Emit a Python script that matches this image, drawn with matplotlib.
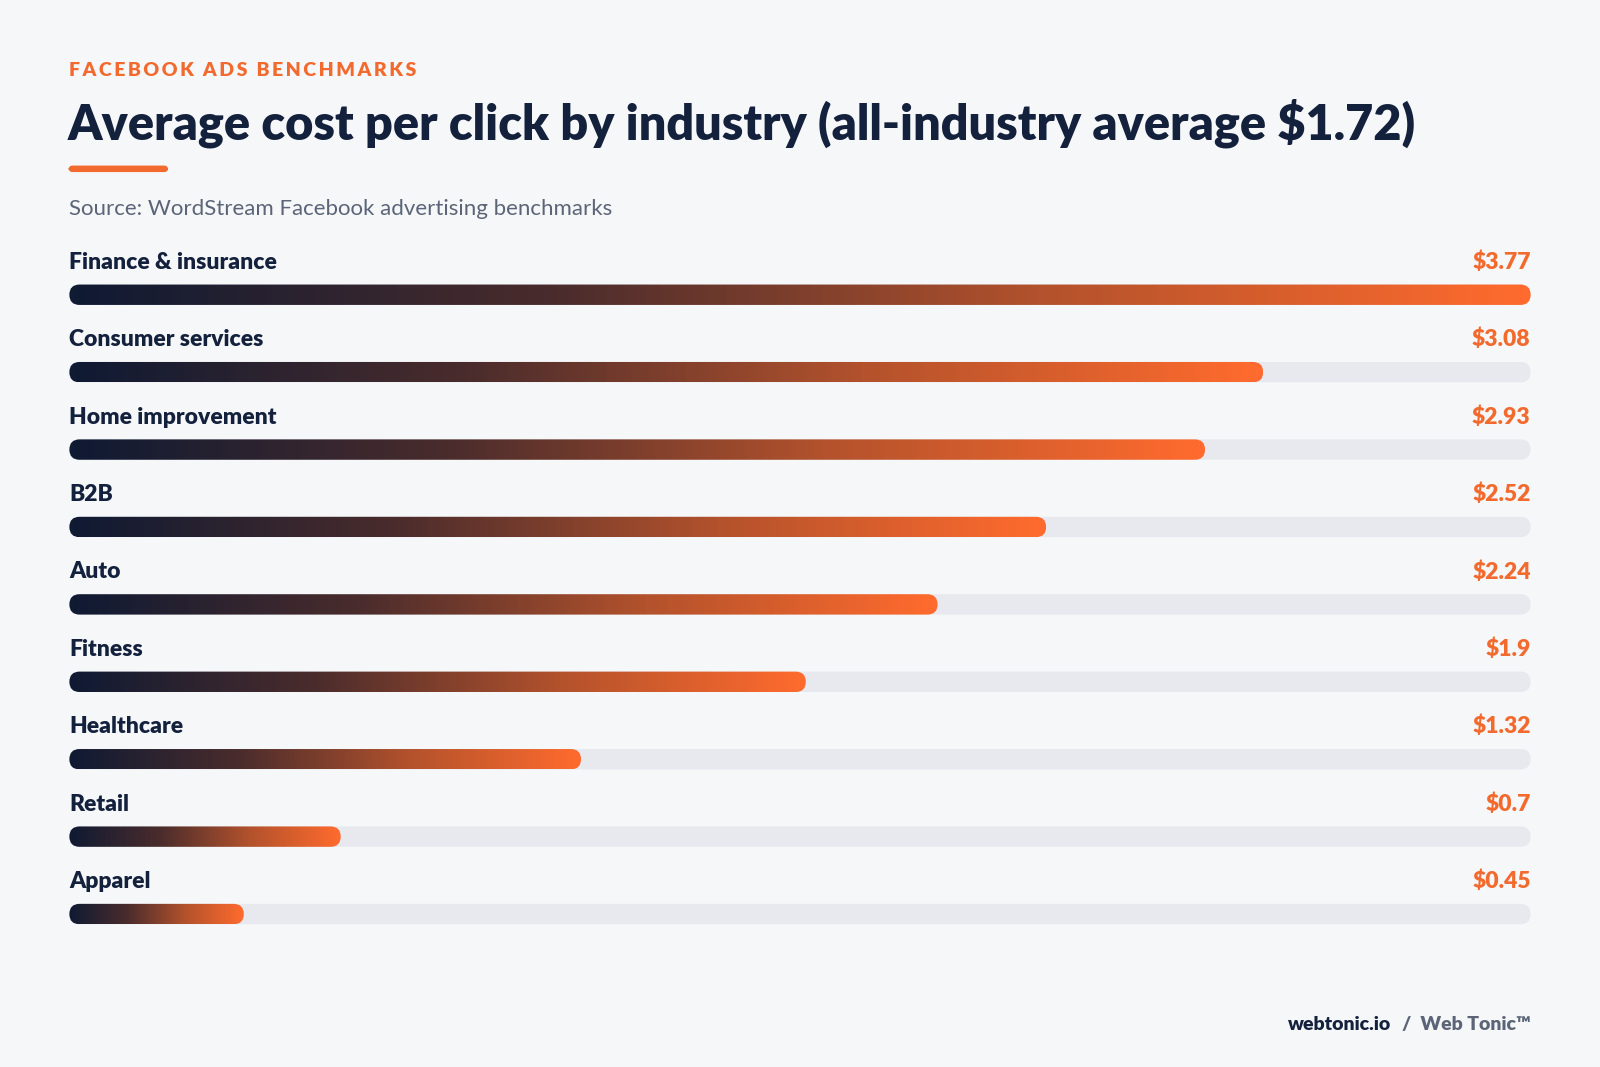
import numpy as np
import matplotlib
matplotlib.use("Agg")
import matplotlib.pyplot as plt
from matplotlib.patches import FancyBboxPatch
from matplotlib.colors import LinearSegmentedColormap

categories = ["Finance & insurance", "Consumer services", "Home improvement", "B2B",
              "Auto", "Fitness", "Healthcare", "Retail", "Apparel"]
values = [3.77, 3.08, 2.93, 2.52, 2.24, 1.9, 1.32, 0.7, 0.45]
value_labels = ["$3.77", "$3.08", "$2.93", "$2.52", "$2.24", "$1.9", "$1.32", "$0.7", "$0.45"]

W, H = 1568, 1046
BG = "#f6f7f9"; NAVY = "#14213d"; ORANGE = "#f26a2e"; GRAY = "#5b6577"; TRACK = "#e7e9ee"
plt.rcParams['font.family'] = ['Lato', 'DejaVu Sans']

fig = plt.figure(figsize=(16, 10.67), dpi=100, facecolor=BG)
sp = "\u2009"
header = "  ".join(sp.join(w) for w in ["FACEBOOK", "ADS", "BENCHMARKS"])
fig.text(68/W, 1-69/H, header, color=ORANGE, fontsize=14, fontweight='heavy', va='center',
         family=['Lato', 'DejaVu Sans'])
fig.text(66/W, 1-121/H, "Average cost per click by industry (all-industry average $1.72)",
         color=NAVY, fontsize=35, fontweight='heavy', va='center')
fig.patches.append(FancyBboxPatch((68/W, 1-168/H), 96/W, 5/H, boxstyle="round,pad=0,rounding_size=0.002",
                                  transform=fig.transFigure, color=ORANGE, mutation_aspect=1.5))
fig.text(68/W, 1-205/H, "Source: WordStream Facebook advertising benchmarks", color=GRAY, fontsize=16, va='center')
fig.text(1363/W, 1-1004/H, "webtonic.io", color=NAVY, fontsize=14, fontweight='heavy', ha='right', va='center')
fig.text(1500/W, 1-1004/H, "/  Web Tonic\u2122", color=GRAY, fontsize=14, fontweight='heavy', ha='right', va='center')

top, bot = 251, 934
ax = fig.add_axes([68/W, 1-bot/H, (1500-68)/W, (bot-top)/H])
ax.set_facecolor(BG)
vmax = values[0]
ax.axis('off')

xpp = vmax/1432; ypp = 1/76
asp = ypp/xpp
bh = 20*ypp; r = 10*xpp
cmap = LinearSegmentedColormap.from_list("g", ["#0f1a33", "#4a2c2c", "#b3522c", "#ff6b2e"])
grad = np.linspace(0, 1, 256).reshape(1, -1)
for i, (c, v, lab) in enumerate(zip(categories, values, value_labels)):
    track = FancyBboxPatch((0, i-bh/2), vmax, bh, boxstyle=f"round,pad=0,rounding_size={r}",
                           mutation_aspect=asp, color=TRACK, lw=0, zorder=1)
    ax.add_patch(track)
    clip = FancyBboxPatch((0, i-bh/2), v, bh, boxstyle=f"round,pad=0,rounding_size={r}",
                          mutation_aspect=asp, fc='none', lw=0, transform=ax.transData)
    im = ax.imshow(grad, extent=(0, v, i+bh/2, i-bh/2), aspect='auto', cmap=cmap,
                   interpolation='bicubic', zorder=2)
    im.set_clip_path(clip)
    ax.text(0, i-0.42, c, color=NAVY, fontsize=16.5, fontweight='heavy', va='center', clip_on=False)
    ax.text(vmax, i-0.42, lab, color=ORANGE, fontsize=16.5, fontweight='heavy', va='center', ha='right', clip_on=False)
ax.set_xlim(0, vmax); ax.set_ylim(len(values)-0.5, -0.5)
fig.savefig("out.png", dpi=100, facecolor=BG)
